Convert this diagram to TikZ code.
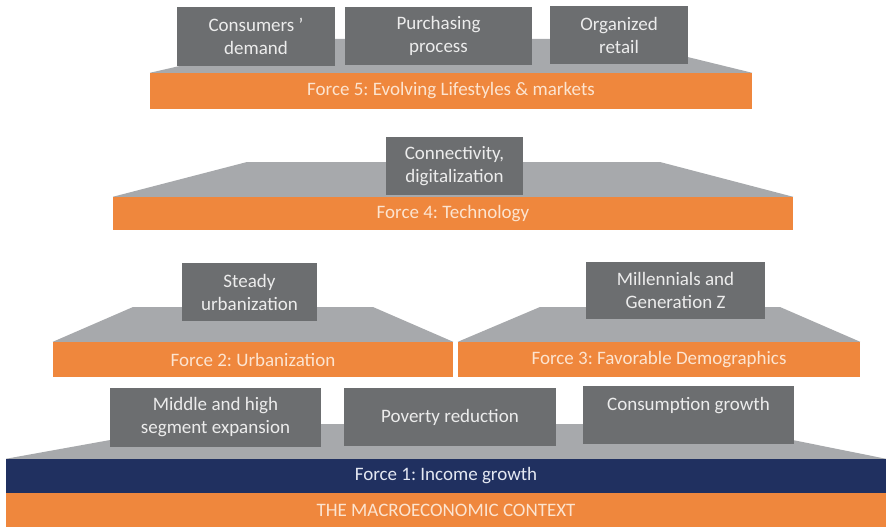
\documentclass[tikz,border=0pt]{standalone}
\usepackage{fontspec}
\setmainfont{Carlito}
\frenchspacing
\definecolor{forceorange}{RGB}{239,135,61}
\definecolor{forcetext}{RGB}{252,228,208}
\definecolor{incomeblue}{RGB}{32,48,96}
\definecolor{incometext}{RGB}{228,232,242}
\definecolor{boxgray}{RGB}{108,110,112}
\definecolor{boxtext}{RGB}{236,236,236}
\definecolor{slabgray}{RGB}{167,169,172}
\tikzstyle{force} = [rectangle, inner sep=0pt, fill=forceorange, text=forcetext, font=\fontsize{19}{23}\selectfont]
\tikzstyle{income} = [force, fill=incomeblue, text=incometext]
\tikzstyle{driver} = [rectangle, inner sep=0pt, fill=boxgray, text=boxtext, align=center, font=\fontsize{19}{23}\selectfont]
\tikzstyle{slab} = [fill=slabgray]

\begin{document}
\begin{tikzpicture}[x=1pt, y=-1pt]
	\useasboundingbox (0,0) rectangle (886,527);
	% the force bars
	\node (ctx) [force, minimum width=880pt, minimum height=34pt] at (446,510) {THE MACROECONOMIC CONTEXT};
	\node (f1) [income, minimum width=880pt, minimum height=34pt] at (446,476) {Force 1: Income growth};
	\node (f2) [force, minimum width=400pt, minimum height=35pt] at (253,359.5) {Force 2: Urbanization};
	\node (f3) [force, minimum width=402pt, minimum height=35pt] at (659,359.5) {Force 3: Favorable Demographics};
	\node (f4) [force, minimum width=680pt, minimum height=33pt] at (453,213.5) {Force 4: Technology};
	\node (f5) [force, minimum width=602pt, minimum height=36pt] at (451,91) {Force 5: Evolving Lifestyles \& markets};
	% grey slabs on top of each bar
	\fill [slab] (f1.north west) -- (199,424) -- (713,424) -- (f1.north east) -- cycle;
	\fill [slab] (f2.north west) -- (133,307) -- (373,307) -- (f2.north east) -- cycle;
	\fill [slab] (f3.north west) -- (540,307) -- (780,307) -- (f3.north east) -- cycle;
	\fill [slab] (f4.north west) -- (247,162) -- (660,162) -- (f4.north east) -- cycle;
	\fill [slab] (f5.north west) -- (298,39) -- (614,39) -- (f5.north east) -- cycle;
	% drivers standing on the slabs
	\node (middle) [driver, minimum width=211pt, minimum height=59pt] at (215.5,417.5) {Middle and high\\segment expansion};
	\node (poverty) [driver, minimum width=212pt, minimum height=58pt] at (450,417) {Poverty reduction};
	\node (consumption) [driver, minimum width=211pt, minimum height=58pt] at (688.5,415) {Consumption growth\\~};
	\node (steady) [driver, minimum width=135pt, minimum height=58pt] at (249.5,292) {Steady\\urbanization};
	\node (millennials) [driver, minimum width=179pt, minimum height=57pt] at (675.5,290.5) {Millennials and\\Generation Z};
	\node (connect) [driver, minimum width=137pt, minimum height=58pt] at (454.5,166) {Connectivity,\\digitalization};
	\node (consumers) [driver, minimum width=158pt, minimum height=59pt] at (256,36.5) {Consumers '\\demand};
	\node (purchasing) [driver, minimum width=187pt, minimum height=58pt] at (438.5,36) {Purchasing\\process};
	\node (organized) [driver, minimum width=138pt, minimum height=58pt] at (619,35) {Organized\\retail};
\end{tikzpicture}
\end{document}
